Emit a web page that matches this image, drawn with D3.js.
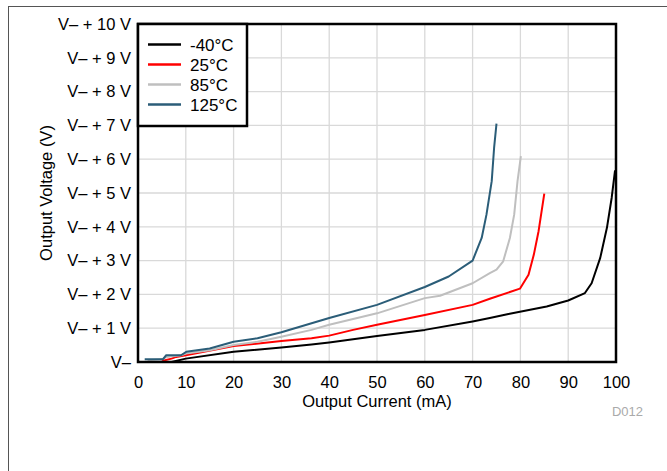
<!DOCTYPE html>
<html>
<head>
<meta charset="utf-8">
<script src="https://cdn.jsdelivr.net/npm/d3@7"></script>
<style>
  body { margin: 0; background: #fff; }
  text { font-family: "Liberation Sans", Arial, sans-serif; }
</style>
</head>
<body>
<div id="chart"></div>
<script>
// series: [current mA, voltage above V-]
const seriesNames = ["-40°C", "25°C", "85°C", "125°C"];
const seriesColors = ["#000000", "#ff0000", "#bfbfbf", "#2b5d78"];
const dataM40 = [[7,0],[10,0.1],[20,0.3],[30,0.43],[36.3,0.52],[40,0.58],[50,0.77],[60,0.95],[70,1.2],[73.6,1.3],[77.5,1.42],[85.5,1.64],[90,1.82],[93.5,2.04],[94.9,2.33],[96.7,3.08],[98.1,3.97],[99.1,4.86],[99.8,5.67]];
const data25 = [[5,0.03],[7,0.1],[8,0.15],[10,0.2],[20,0.47],[30,0.62],[36.3,0.7],[40,0.78],[45,0.95],[50,1.1],[60,1.39],[70,1.69],[73.6,1.87],[79.9,2.17],[81.7,2.58],[82.8,3.17],[83.8,3.87],[85,4.98]];
const data85 = [[2,0.05],[5,0.08],[6,0.15],[9,0.2],[10,0.25],[15,0.35],[20,0.5],[25,0.6],[30,0.75],[36.3,0.95],[40,1.1],[50,1.44],[60,1.89],[63.2,1.96],[70,2.33],[73.6,2.63],[75,2.73],[76.4,2.98],[77.8,3.67],[78.7,4.36],[79.4,5.35],[80.1,6.09]];
const data125 = [[1.4,0.08],[5.2,0.08],[5.9,0.2],[9,0.2],[10.1,0.3],[15,0.4],[20,0.6],[25,0.7],[30,0.88],[40,1.3],[50,1.69],[60,2.22],[65,2.53],[70,3.0],[71.9,3.67],[72.9,4.36],[74,5.35],[74.5,6.34],[75,7.05]];
const allSeries = [dataM40, data25, data85, data125];

const xTicks = [0,10,20,30,40,50,60,70,80,90,100];
const yTicks = [0,1,2,3,4,5,6,7,8,9,10];
const yTickLabels = ["V–","V– + 1 V","V– + 2 V","V– + 3 V","V– + 4 V","V– + 5 V","V– + 6 V","V– + 7 V","V– + 8 V","V– + 9 V","V– + 10 V"];

const W = 667, H = 471;
const plot = {l: 138, r: 616, t: 24, b: 362};

const svg = d3.select("#chart").append("svg")
    .attr("width", W)
    .attr("height", H);

//outer frame
svg.append("rect")
    .attr("x", 8.5).attr("y", 6.5)
    .attr("width", 700).attr("height", 500)
    .attr("fill", "#fff")
    .attr("stroke", "#555")
    .attr("stroke-width", 1);

let x = d3.scaleLinear().domain([0, 100]).range([plot.l, plot.r]);
let y = d3.scaleLinear().domain([0, 10]).range([plot.b, plot.t]);

//grid
let grid = svg.append("g");
grid.selectAll(".gx").data(xTicks).enter().append("line")
    .attr("x1", d => x(d)).attr("x2", d => x(d))
    .attr("y1", plot.t).attr("y2", plot.b)
    .attr("stroke", "#d9d9d9").attr("stroke-width", 1.3);
grid.selectAll(".gy").data(yTicks).enter().append("line")
    .attr("x1", plot.l).attr("x2", plot.r)
    .attr("y1", d => y(d)).attr("y2", d => y(d))
    .attr("stroke", "#d9d9d9").attr("stroke-width", 1.3);

//axes (labels only, frame drawn separately)
let axisX = d3.axisBottom(x).tickValues(xTicks).tickSize(0).tickPadding(14);
let axisY = d3.axisLeft(y).tickValues(yTicks).tickSize(0).tickPadding(7)
    .tickFormat((d, i) => yTickLabels[i]);

let gx = svg.append("g").attr("transform", `translate(0,${plot.b})`).call(axisX);
let gy = svg.append("g").attr("transform", `translate(${plot.l},0)`).call(axisY);
[gx, gy].forEach(g => {
    g.select(".domain").remove();
    g.selectAll("text")
        .attr("font-family", "Liberation Sans, Arial, sans-serif")
        .attr("font-size", 16.5)
        .attr("fill", "#000");
});

//lines
let line = d3.line().x(d => x(d[0])).y(d => y(d[1]));
allSeries.forEach((s, i) => {
    svg.append("path")
        .datum(s)
        .attr("fill", "none")
        .attr("stroke", seriesColors[i])
        .attr("stroke-width", 2)
        .attr("stroke-linejoin", "round")
        .attr("d", line);
});

//plot frame
svg.append("rect")
    .attr("x", plot.l).attr("y", plot.t)
    .attr("width", plot.r - plot.l).attr("height", plot.b - plot.t)
    .attr("fill", "none")
    .attr("stroke", "#000")
    .attr("stroke-width", 2.5);

//legend
let legend = svg.append("g");
legend.append("rect")
    .attr("x", plot.l).attr("y", plot.t)
    .attr("width", 109).attr("height", 102)
    .attr("fill", "#fff")
    .attr("stroke", "#000")
    .attr("stroke-width", 2.5);
seriesNames.forEach((name, i) => {
    let ly = 44.5 + i * 20;
    legend.append("line")
        .attr("x1", 148).attr("x2", 181)
        .attr("y1", ly).attr("y2", ly)
        .attr("stroke", seriesColors[i])
        .attr("stroke-width", 2.5);
    legend.append("text")
        .attr("x", 190).attr("y", ly + 6)
        .attr("font-size", 17)
        .text(name);
});

//titles
svg.append("text")
    .attr("x", (plot.l + plot.r) / 2)
    .attr("y", 407)
    .attr("text-anchor", "middle")
    .attr("font-size", 16.5)
    .text("Output Current (mA)");
svg.append("text")
    .attr("transform", `translate(52,${(plot.t + plot.b) / 2}) rotate(-90)`)
    .attr("text-anchor", "middle")
    .attr("font-size", 16.5)
    .text("Output Voltage (V)");
svg.append("text")
    .attr("x", 643).attr("y", 416)
    .attr("text-anchor", "end")
    .attr("font-size", 13)
    .attr("fill", "#aaaaaa")
    .text("D012");
</script>
</body>
</html>
